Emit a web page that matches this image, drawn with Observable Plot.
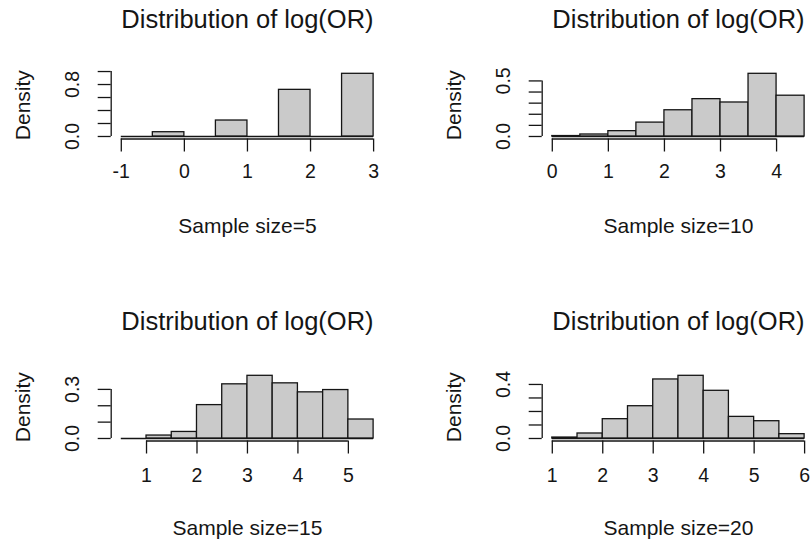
<!DOCTYPE html>
<html>
<head>
<meta charset="utf-8">
<script src="https://cdn.jsdelivr.net/npm/d3@7"></script>
<script src="https://cdn.jsdelivr.net/npm/@observablehq/plot@0.6"></script>
<style>
  html, body { margin: 0; padding: 0; background: #fff; }
  body { width: 811px; height: 544px; overflow: hidden; position: relative; }
  .panel { position: absolute; width: 431px; height: 242px; }
  .panel svg { overflow: visible; max-width: none !important; width: 431px; height: 242px; }
</style>
</head>
<body>
<div id="p1" class="panel" style="left:0px; top:0px;"></div>
<div id="p2" class="panel" style="left:431px; top:0px;"></div>
<div id="p3" class="panel" style="left:0px; top:302px;"></div>
<div id="p4" class="panel" style="left:431px; top:302px;"></div>
<script>
// ---- data ----
const mainTitle = "Distribution of log(OR)";
const yTitle = "Density";

// Sample size = 5
const breaks5 = [-1, -0.5, 0, 0.5, 1, 1.5, 2, 2.5, 3];
const density5 = [0, 0.066, 0, 0.246, 0, 0.718, 0, 0.965];
const xTicks5 = [-1, 0, 1, 2, 3];
const yTicks5 = [0, 0.2, 0.4, 0.6, 0.8, 1.0];
const yLabels5 = [0, 0.8];
const xTitle5 = "Sample size=5";

// Sample size = 10
const breaks10 = [0, 0.5, 1, 1.5, 2, 2.5, 3, 3.5, 4, 4.5];
const density10 = [0.004, 0.018, 0.048, 0.125, 0.236, 0.336, 0.306, 0.564, 0.367];
const xTicks10 = [0, 1, 2, 3, 4];
const yTicks10 = [0, 0.1, 0.2, 0.3, 0.4, 0.5];
const yLabels10 = [0, 0.5];
const xTitle10 = "Sample size=10";

// Sample size = 15
const breaks15 = [0.5, 1, 1.5, 2, 2.5, 3, 3.5, 4, 4.5, 5, 5.5];
const density15 = [0, 0.018, 0.040, 0.204, 0.331, 0.383, 0.337, 0.282, 0.296, 0.116];
const xTicks15 = [1, 2, 3, 4, 5];
const yTicks15 = [0, 0.1, 0.2, 0.3];
const yLabels15 = [0, 0.3];
const xTitle15 = "Sample size=15";

// Sample size = 20
const breaks20 = [1, 1.5, 2, 2.5, 3, 3.5, 4, 4.5, 5, 5.5, 6];
const density20 = [0.007, 0.037, 0.143, 0.239, 0.437, 0.464, 0.353, 0.160, 0.128, 0.032];
const xTicks20 = [1, 2, 3, 4, 5, 6];
const yTicks20 = [0, 0.1, 0.2, 0.3, 0.4];
const yLabels20 = [0, 0.4];
const xTitle20 = "Sample size=20";

// ---- drawing ----
const FONT = "'Liberation Sans', Arial, Helvetica, sans-serif";
const W = 431, H = 242;
const INK = "#151515";

function histPanel(breaks, dens, xt, yt, ylab, xTitle, pad) {
  const bins = dens.map((d, i) => ({x1: breaks[i], x2: breaks[i + 1], d}));
  const b0 = breaks[0], b1 = breaks[breaks.length - 1];
  const xr = b1 - b0;
  const xdom = [b0 - 0.04 * xr, b1 + 0.04 * xr];
  const ymax = d3.max(dens);
  const ydom = [-0.04 * ymax, 1.04 * ymax];
  return Plot.plot({
    width: W, height: H,
    marginLeft: 110.7, marginRight: 47.8, marginTop: 70.8, marginBottom: 103.5,
    x: {domain: xdom, axis: null},
    y: {domain: ydom, axis: null},
    style: {fontFamily: FONT, color: INK, background: "transparent", overflow: "visible", maxWidth: "none"},
    marks: [
      // baseline across all bins (empty bins show as flat lines)
      Plot.ruleY([{y: 0, a: b0, b: b1}], {y: "y", x1: "a", x2: "b", stroke: INK, strokeWidth: 1.3}),
      Plot.rect(bins, {x1: "x1", x2: "x2", y1: () => 0, y2: "d", fill: "#cacaca", stroke: INK, strokeWidth: 1.3}),
      // x axis line and ticks
      Plot.ruleY([{y: ydom[0], a: xt[0], b: xt[xt.length - 1]}], {y: "y", x1: "a", x2: "b", stroke: INK, strokeWidth: 1.3}),
      Plot.axisX(xt, {anchor: "bottom", tickSize: 13, tickPadding: pad, fontSize: 19.5, tickFormat: d => String(d), label: null, stroke: INK, strokeWidth: 1.3}),
      // y axis line and ticks
      Plot.ruleX([{x: xdom[0], a: yt[0], b: yt[yt.length - 1]}], {x: "x", y1: "a", y2: "b", stroke: INK, strokeWidth: 1.3}),
      Plot.axisY(yt, {anchor: "left", tickSize: 13, tickFormat: () => "", label: null, stroke: INK, strokeWidth: 1.3}),
      Plot.text(ylab, {x: () => xdom[0], y: d => d, text: d => d.toFixed(1), rotate: -90, dx: -38, fontSize: 19.5, textAnchor: "middle", lineAnchor: "middle", fill: INK}),
      // titles
      Plot.text([yTitle], {frameAnchor: "left", rotate: -90, dx: -88, fontSize: 21, textAnchor: "middle", lineAnchor: "middle", fill: INK}),
      Plot.text([xTitle], {frameAnchor: "bottom", dy: 87.5, fontSize: 21, textAnchor: "middle", lineAnchor: "middle", fill: INK}),
      Plot.text([mainTitle], {frameAnchor: "top", dy: -51, fontSize: 25.5, textAnchor: "middle", lineAnchor: "middle", fill: INK})
    ]
  });
}

document.getElementById("p1").append(histPanel(breaks5, density5, xTicks5, yTicks5, yLabels5, xTitle5, 12));
document.getElementById("p2").append(histPanel(breaks10, density10, xTicks10, yTicks10, yLabels10, xTitle10, 12));
document.getElementById("p3").append(histPanel(breaks15, density15, xTicks15, yTicks15, yLabels15, xTitle15, 14));
document.getElementById("p4").append(histPanel(breaks20, density20, xTicks20, yTicks20, yLabels20, xTitle20, 14));
</script>
</body>
</html>
